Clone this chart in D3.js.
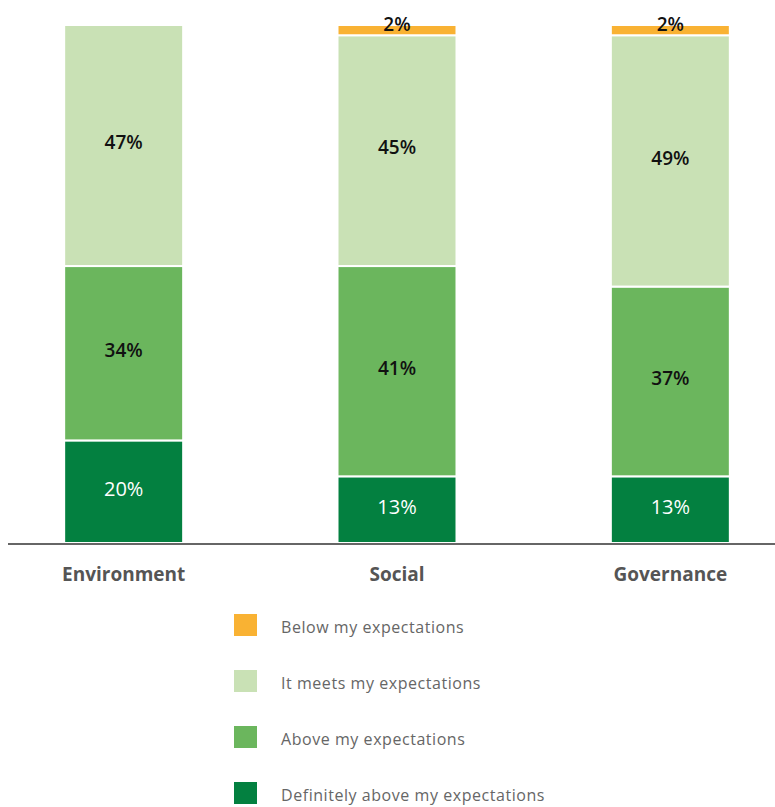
<!DOCTYPE html>
<html><head><meta charset="utf-8">
<script src="https://cdn.jsdelivr.net/npm/d3@7"></script>
<style>body{margin:0;background:#fff}svg{display:block}</style>
</head><body>
<script>
const categories = ["Environment", "Social", "Governance"];
const seriesNames = ["Definitely above my expectations", "Above my expectations", "It meets my expectations", "Below my expectations"];
const definitelyAbove = [20, 13, 13];
const above = [34, 41, 37];
const meets = [47, 45, 49];
const below = [0, 2, 2];
const colors = ["#038040", "#6bb65d", "#c9e1b5", "#f9b233"];
const labelColors = ["#ffffff", "#111111", "#111111", "#111111"];
const legendOrder = [3, 2, 1, 0];

const W = 775, H = 807;
const svg = d3.select("body").append("svg").attr("width", W).attr("height", H);
const font = "'Open Sans', Lato, sans-serif";

const rows = categories.map((c, i) => ({cat: c, s0: definitelyAbove[i], s1: above[i], s2: meets[i], s3: below[i]}));
const stack = d3.stack().keys(["s0", "s1", "s2", "s3"])(rows);

const x = d3.scaleBand().domain(categories).range([-13, 807]).paddingInner(0.5647).paddingOuter(0.2823);
const y = d3.scaleLinear().domain([0, 101]).range([543, 25]);

const g = svg.append("g");
stack.forEach((layer, k) => {
  layer.forEach((d, i) => {
    const h = y(d[0]) - y(d[1]);
    if (h <= 0) return;
    g.append("rect")
      .attr("x", x(categories[i]))
      .attr("y", y(d[1]))
      .attr("width", x.bandwidth())
      .attr("height", h)
      .attr("fill", colors[k])
      .attr("stroke", "#fff").attr("stroke-width", 2);
  });
});

// axis line
svg.append("line").attr("x1", 8).attr("x2", 775).attr("y1", 544).attr("y2", 544)
  .attr("stroke", "#666").attr("stroke-width", 2);

// labels
stack.forEach((layer, k) => {
  layer.forEach((d, i) => {
    const v = d[1] - d[0];
    if (v <= 0) return;
    const cy = (y(d[0]) + y(d[1])) / 2;
    const small = (y(d[0]) - y(d[1])) < 20;
    svg.append("text")
      .attr("x", x(categories[i]) + x.bandwidth() / 2)
      .attr("y", small ? cy + 1 : cy - 3)
      .attr("dy", small ? "0" : "0.35em")
      .attr("text-anchor", "middle")
      .attr("font-family", font)
      .attr("font-size", k === 0 ? 20 : 19)
      .attr("font-weight", k === 0 ? 400 : 600)
      .attr("fill", labelColors[k])
      .text(v + "%");
  });
});

// category labels
categories.forEach(c => {
  svg.append("text").attr("x", x(c) + x.bandwidth() / 2).attr("y", 581)
    .attr("text-anchor", "middle").attr("font-family", font)
    .attr("font-size", 19).attr("font-weight", 700).attr("fill", "#555").text(c);
});

// legend
legendOrder.forEach((k, j) => {
  const ly = 614 + j * 56;
  svg.append("rect").attr("x", 234).attr("y", ly).attr("width", 23).attr("height", 22).attr("fill", colors[k]);
  svg.append("text").attr("x", 281).attr("y", ly + 19).attr("font-family", font)
    .attr("font-size", 16).attr("letter-spacing", "0.55px").attr("fill", "#666").text(seriesNames[k]);
});
</script>
</body></html>
